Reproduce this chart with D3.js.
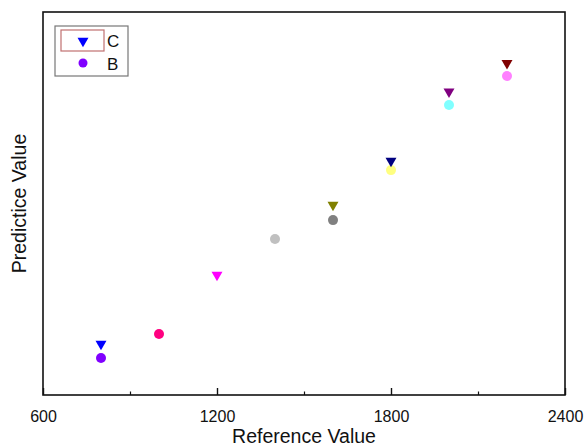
<!DOCTYPE html>
<html>
<head>
<meta charset="utf-8">
<script src="https://cdn.jsdelivr.net/npm/d3@7"></script>
<style>
  body { margin: 0; background: #fff; }
  svg { font-family: Arial, "Liberation Sans", sans-serif; }
</style>
</head>
<body>
<svg width="584" height="448"></svg>
<script>
// Series C (down triangles) and B (circles)
const cX = [800, 1200, 1600, 1800, 2000, 2200];
const cY = [840, 1164, 1493, 1700, 2026, 2159];
const cColors = ["#0000ff", "#ff00ff", "#808000", "#000080", "#800080", "#800000"];

const bX = [800, 1000, 1400, 1600, 1800, 2000, 2200];
const bY = [774, 887, 1333, 1422, 1657, 1963, 2099];
const bColors = ["#8000ff", "#ff0080", "#c0c0c0", "#808080", "#ffff80", "#80ffff", "#ff80ff"];

const xTicks = [600, 1200, 1800, 2400];
const xMinorTicks = [900, 1500, 2100];

const svg = d3.select("svg");
const width = +svg.attr("width");
const height = +svg.attr("height");

const margin = { top: 12, right: 19, bottom: 53, left: 43 };
const innerWidth = width - margin.left - margin.right;
const innerHeight = height - margin.top - margin.bottom;

const xScale = d3.scaleLinear().domain([600, 2400]).range([0, innerWidth]);
const yScale = d3.scaleLinear().domain([600, 2400]).range([innerHeight, 0]);

const g = svg.append("g")
  .attr("transform", `translate(${margin.left},${margin.top})`);

// frame
g.append("rect")
  .attr("width", innerWidth)
  .attr("height", innerHeight)
  .attr("fill", "none")
  .attr("stroke", "#111")
  .attr("stroke-width", 1.6);

// x axis: major ticks inward, minor ticks shorter
const xAxisG = g.append("g")
  .attr("transform", `translate(0,${innerHeight})`)
  .call(d3.axisBottom(xScale).tickValues(xTicks).tickSize(-7).tickPadding(16).tickFormat(d3.format("d")));
xAxisG.select(".domain").remove();
xAxisG.selectAll(".tick line").attr("stroke", "#111").attr("stroke-width", 1.4);
xAxisG.selectAll(".tick text")
  .attr("font-size", 16)
  .attr("fill", "#111")
  .attr("font-family", "Arial, 'Liberation Sans', sans-serif");

const xMinorG = g.append("g")
  .attr("transform", `translate(0,${innerHeight})`)
  .call(d3.axisBottom(xScale).tickValues(xMinorTicks).tickSize(-3.5).tickFormat(""));
xMinorG.select(".domain").remove();
xMinorG.selectAll(".tick line").attr("stroke", "#111").attr("stroke-width", 1.2);

// axis titles
svg.append("text")
  .attr("x", margin.left + innerWidth / 2)
  .attr("y", 443)
  .attr("text-anchor", "middle")
  .attr("font-size", 19.5)
  .attr("fill", "#111")
  .text("Reference Value");

svg.append("text")
  .attr("transform", `translate(26,${margin.top + innerHeight / 2}) rotate(-90)`)
  .attr("text-anchor", "middle")
  .attr("font-size", 19.5)
  .attr("fill", "#111")
  .text("Predictice Value");

// markers
const triangle = d3.symbol().type(d3.symbolTriangle).size(52);

g.selectAll("circle.b")
  .data(bX)
  .enter()
  .append("circle")
  .attr("class", "b")
  .attr("cx", (d) => xScale(d))
  .attr("cy", (d, i) => yScale(bY[i]))
  .attr("r", 5)
  .attr("fill", (d, i) => bColors[i]);

g.selectAll("path.c")
  .data(cX)
  .enter()
  .append("path")
  .attr("class", "c")
  .attr("d", triangle)
  .attr("transform", (d, i) => `translate(${xScale(d)},${yScale(cY[i])}) rotate(180)`)
  .attr("fill", (d, i) => cColors[i]);

// legend
const legend = svg.append("g");
legend.append("rect")
  .attr("x", 55).attr("y", 26)
  .attr("width", 73).attr("height", 50)
  .attr("fill", "#fff")
  .attr("stroke", "#777")
  .attr("stroke-width", 1.2);
legend.append("rect")
  .attr("x", 61).attr("y", 30)
  .attr("width", 43).attr("height", 21)
  .attr("fill", "none")
  .attr("stroke", "#c07070")
  .attr("stroke-width", 1.2);
legend.append("path")
  .attr("d", triangle)
  .attr("transform", "translate(83,41) rotate(180)")
  .attr("fill", cColors[0]);
legend.append("circle")
  .attr("cx", 83).attr("cy", 63).attr("r", 4.5)
  .attr("fill", bColors[0]);
legend.append("text")
  .attr("x", 107).attr("y", 47)
  .attr("font-size", 17)
  .attr("fill", "#111")
  .text("C");
legend.append("text")
  .attr("x", 107).attr("y", 70)
  .attr("font-size", 17)
  .attr("fill", "#111")
  .text("B");
</script>
</body>
</html>
